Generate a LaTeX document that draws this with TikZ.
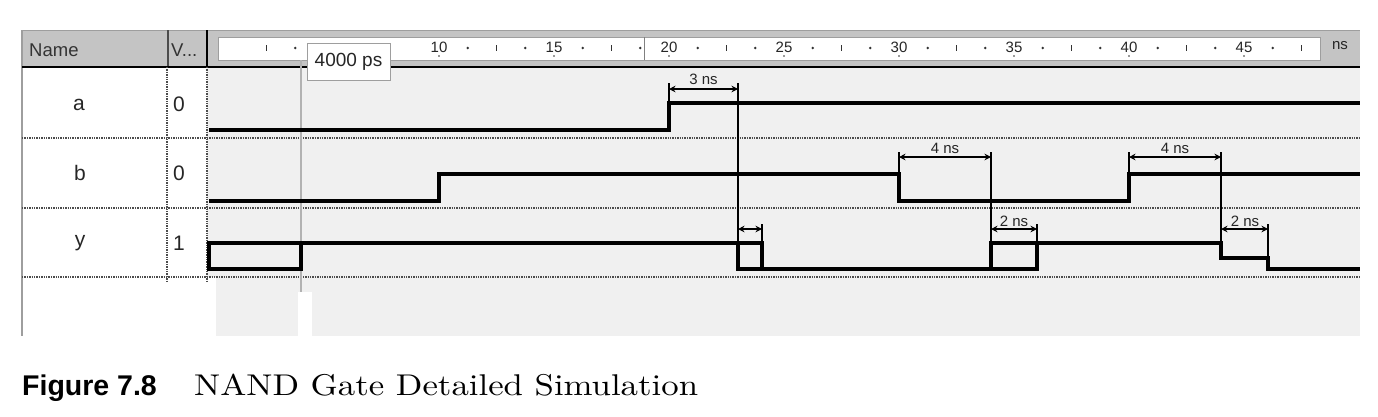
\documentclass[tikz,border=0pt]{standalone}
\usepackage{fontspec}
\usetikzlibrary{arrows.meta}
\newfontfamily\ui{Liberation Sans}
\newfontfamily\capfont{lmroman10-regular.otf}[FakeStretch=1.16]
\definecolor{hdr}{gray}{0.77}
\definecolor{wbg}{gray}{0.94}
\definecolor{frm}{gray}{0.62}
\definecolor{sepc}{gray}{0.3}
\begin{document}
\begin{tikzpicture}[x=1pt,y=-1pt,
  wave/.style={line width=3.4pt, line join=miter},
  ann/.style={line width=1.5pt},
  dimarrow/.style={line width=1.5pt, {Stealth[length=6.5pt,width=6.5pt]}-{Stealth[length=6.5pt,width=6.5pt]}},
  sep/.style={densely dotted, line width=1.4pt, sepc},
  ruler/.style={font=\ui\fontsize{15}{15}\selectfont, text=black!85, inner sep=0pt},
  lbl/.style={font=\ui\fontsize{15}{15}\selectfont, text=black!85, inner sep=0pt},
  sig/.style={font=\ui\fontsize{21}{21}\selectfont, text=black!85, inner sep=0pt},
  hdrtext/.style={font=\ui\fontsize{18.5}{18.5}\selectfont, text=black!80, inner sep=0pt, anchor=west}]
\useasboundingbox (0,0) rectangle (1378,416);
\fill[white] (0,0) rectangle (1378,416);
% waveform area background
\fill[wbg] (207,67) rectangle (1360,277);
\fill[wbg] (216,277) rectangle (1360,336);
\fill[white] (298,292) rectangle (312,336);
% header
\fill[hdr] (22,30) rectangle (1360,67);
\fill[white] (218,37) rectangle (1320,60);
\draw[frm, line width=0.8pt] (218,37) rectangle (1320,60);
\draw[frm, line width=1pt] (22,30) -- (1360,30);
\draw[frm, line width=1.2pt] (22,30) -- (22,336);
\draw[black!70, line width=2pt] (168,30) -- (168,67);
\draw[black, line width=2.2pt] (207,30) -- (207,67);
\draw[black, line width=2.8pt] (22,67) -- (1360,67);
\node[hdrtext] (hname) at (29,50) {Name};
\node[hdrtext] (hval) at (171,50) {V...};
% ruler ticks
\foreach \k in {2,3,5,9,10,11,13,14,15,17,18,19,21,22,23,25,26,27,29,30,31,33,34,35,37,38} {
  \pgfmathtruncatemacro\m{mod(\k,4)}
  \ifnum\m=2
    \draw[black!80, line width=1.4pt] ({209+23*1.25*\k},45) -- ({209+23*1.25*\k},51);
  \else
    \fill[black!80] ({209+23*1.25*\k},48) circle (1.3pt);
  \fi
}
\draw[gray, line width=0.8pt] (644,37) -- (644,60);
\foreach \t in {10,15,20,25,30,35,40,45} {
  \node[ruler] (r\t) at ({209+23*\t},47) {\t};
  \fill[black!80] ({209+23*\t},56) circle (0.9pt);
}
\node[ruler] (rns) at (1340,46) {ns};
% column separators
\draw[sep] (167,67) -- (167,282);
\draw[sep] (207,67) -- (207,282);
\draw[sep] (22,138) -- (1360,138);
\draw[sep] (22,208) -- (1360,208);
\draw[sep] (22,277) -- (1360,277);
% cursor
\draw[gray!60, line width=1.5pt] (301,60) -- (301,292);
\node[draw=frm, fill=white, line width=1pt, minimum width=83pt, minimum height=37pt, inner sep=0pt,
      font=\ui\fontsize{19}{19}\selectfont, text=black!85] (cur) at (348.5,61.5) {4000 ps};
% names and values
\node[sig] (na) at (79,105) {a};
\node[sig] (nb) at (80,173) {b};
\node[sig] (ny) at (80,243) {y};
\node[sig, anchor=west] (va) at (173,104) {0};
\node[sig, anchor=west] (vb) at (173,173) {0};
\node[sig, anchor=west] (vy) at (173,243) {1};
% waveforms
\draw[wave] (209,130) -- (669,130) -- (669,103) -- (1360,103);
\draw[wave] (209,201) -- (439,201) -- (439,174) -- (899,174) -- (899,201) -- (1129,201) -- (1129,174) -- (1360,174);
\draw[wave] (209,243) rectangle (301,269);
\draw[wave] (301,243) -- (738,243);
\draw[wave] (738,243) rectangle (762,269);
\draw[wave] (762,269) -- (991,269);
\draw[wave] (991,243) rectangle (1037,269);
\draw[wave] (1037,243) -- (1221,243) -- (1221,258) -- (1268,258) -- (1268,269) -- (1360,269);
% annotations
\draw[ann] (669,83) -- (669,103);
\draw[ann] (738,83) -- (738,269);
\draw[dimarrow] (669,89) -- (738,89);
\node[lbl] (l3) at (703.5,79) {3 ns};
\draw[ann] (899,152) -- (899,174);
\draw[ann] (991,152) -- (991,269);
\draw[dimarrow] (899,157) -- (991,157);
\node[lbl] (l4a) at (945,148) {4 ns};
\draw[ann] (1129,152) -- (1129,174);
\draw[ann] (1221,152) -- (1221,258);
\draw[dimarrow] (1129,157) -- (1221,157);
\node[lbl] (l4b) at (1175,148) {4 ns};
\draw[ann] (762,224) -- (762,269);
\draw[dimarrow] (738,229) -- (762,229);
\draw[ann] (1037,224) -- (1037,269);
\draw[dimarrow] (991,229) -- (1037,229);
\node[lbl] (l2a) at (1014,221) {2 ns};
\draw[ann] (1268,224) -- (1268,269);
\draw[dimarrow] (1221,229) -- (1268,229);
\node[lbl] (l2b) at (1245,221) {2 ns};
% caption
\node[anchor=base west, inner sep=0pt, font=\ui\bfseries\fontsize{28.5}{30}\selectfont] (fig) at (22,395) {Figure 7.8};
\node[anchor=base west, inner sep=0pt, font=\capfont\fontsize{30}{34}\selectfont] (cap) at (194,395) {NAND Gate Detailed Simulation};
\end{tikzpicture}
\end{document}
